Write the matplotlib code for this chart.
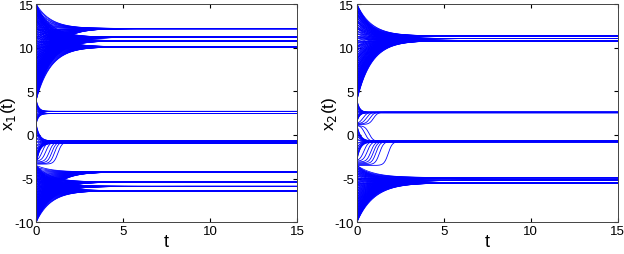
import numpy as np
import matplotlib.pyplot as plt

plt.rcParams['font.family'] = ['Liberation Sans', 'DejaVu Sans']
plt.rcParams['axes.unicode_minus'] = False

t = np.linspace(0, 15, 600)

# ---- panel 1 : x1(t) ----
top_start_1 = [15.0, 14.8, 14.5, 14.3, 14.0, 13.8, 13.5, 13.2, 13.0, 12.7, 12.4, 12.2, 11.9,
               11.6, 11.3, 11.1, 10.8, 10.5, 10.2, 10.0, 9.7, 9.4, 9.1, 8.8, 8.6, 8.3, 8.0,
               7.7, 7.5, 7.2, 6.9, 6.6, 6.4, 6.1, 5.8, 5.5, 5.3, 5.0, 4.7, 4.4, 4.2, 4.0]
top_end_1 = [12.2, 11.2, 10.8, 10.1]
mid_start_1 = [4.0, 3.8, 3.6, 3.3, 3.0, 2.7, 2.3, 2.0, 1.7, 1.5, 1.3]
mid_end_1 = [2.7, 2.45]
low_start_1 = [1.2, 1.0, 0.6, 0.2, -0.3, -0.8, -1.3, -1.8, -2.3, -2.7, -3.0, -3.2, -3.4]
low_end_1 = [-0.7, -0.95]
# trajectories that hang near their start before jumping (start, delay)
slow_start_1 = [-2.9, -3.0, -3.1, -3.2, -3.3, -3.35]
slow_delay_1 = [0.35, 0.55, 0.75, 0.9, 1.05, 1.25]
bot_start_1 = [-3.5, -3.7, -3.9, -4.1, -4.3, -4.5, -4.7, -4.9, -5.1, -5.3, -5.5, -5.7, -5.9,
               -6.1, -6.3, -6.5, -6.7, -6.9, -7.1, -7.3, -7.5, -7.7, -7.9, -8.1, -8.3, -8.5,
               -8.7, -8.9, -9.1, -9.3, -9.5, -9.7, -9.85, -10.0]
bot_end_1 = [-4.25, -5.4, -5.9, -6.4]

# ---- panel 2 : x2(t) ----
top_start_2 = top_start_1
top_end_2 = [11.35, 11.05, 10.8]
mid_start_2 = [4.0, 3.7, 3.4, 3.1, 2.8, 2.5, 2.2, 1.9, 1.7, 1.5]
mid_end_2 = [2.6, 2.55]
mid_slow_start_2 = [1.35, 1.3, 1.25, 1.2]
mid_slow_delay_2 = [0.35, 0.55, 0.75, 0.95]
low_start_2 = [1.15, 0.8, 0.4, 0.0, -0.5, -1.0, -1.5, -2.0, -2.5, -2.9]
low_end_2 = [-0.7, -0.8]
slow_start_2 = [1.1, 1.05, -2.9, -3.0, -3.1, -3.2, -3.3, -3.4, -3.5]
slow_delay_2 = [0.45, 0.7, 0.4, 0.6, 0.8, 0.95, 1.1, 1.3, 1.8]
bot_start_2 = bot_start_1
bot_end_2 = [-4.9, -5.2, -5.5]

BLUE = '#0000ff'


def decay(ax, starts, ends, tau):
    # every start value is drawn towards each of the group's levels
    for s in starts:
        for e in ends:
            ax.plot(t, e + (s - e) * np.exp(-t / tau), color=BLUE, lw=0.55)


def delayed(ax, starts, delays, end, w=0.12):
    for s, d in zip(starts, delays):
        g = 1.0 / (1.0 + np.exp((t - d) / w))
        g = g / g[0]
        ax.plot(t, end + (s - end) * g, color=BLUE, lw=0.6)


fig = plt.figure(figsize=(6.24, 2.55), dpi=100)
ax1 = fig.add_axes([0.058, 0.125, 0.418, 0.855])
ax2 = fig.add_axes([0.572, 0.125, 0.418, 0.855])

decay(ax1, top_start_1, top_end_1, 0.85)
decay(ax1, mid_start_1, mid_end_1, 0.15)
decay(ax1, low_start_1, low_end_1, 0.2)
delayed(ax1, slow_start_1, slow_delay_1, -0.8)
decay(ax1, bot_start_1, bot_end_1, 0.85)

decay(ax2, top_start_2, top_end_2, 0.85)
decay(ax2, mid_start_2, mid_end_2, 0.15)
delayed(ax2, mid_slow_start_2, mid_slow_delay_2, 2.6)
decay(ax2, low_start_2, low_end_2, 0.2)
delayed(ax2, slow_start_2, slow_delay_2, -0.75)
decay(ax2, bot_start_2, bot_end_2, 1.0)

for ax, lab in [(ax1, 'x$_1$(t)'), (ax2, 'x$_2$(t)')]:
    ax.set_xlim(0, 15)
    ax.set_ylim(-10, 15)
    ax.set_xticks([0, 5, 10, 15])
    ax.set_yticks([-10, -5, 0, 5, 10, 15])
    ax.tick_params(direction='in', top=True, right=True, labelsize=9.5, length=3, pad=2)
    ax.set_xlabel('t', fontsize=13, labelpad=-3)
    ax.set_ylabel(lab, fontsize=12.5)
    ax.yaxis.set_label_coords(-0.068, 0.5)
    for sp in ax.spines.values():
        sp.set_linewidth(0.7)
        sp.set_color('#444444')

fig.savefig('out.png', dpi=100)
